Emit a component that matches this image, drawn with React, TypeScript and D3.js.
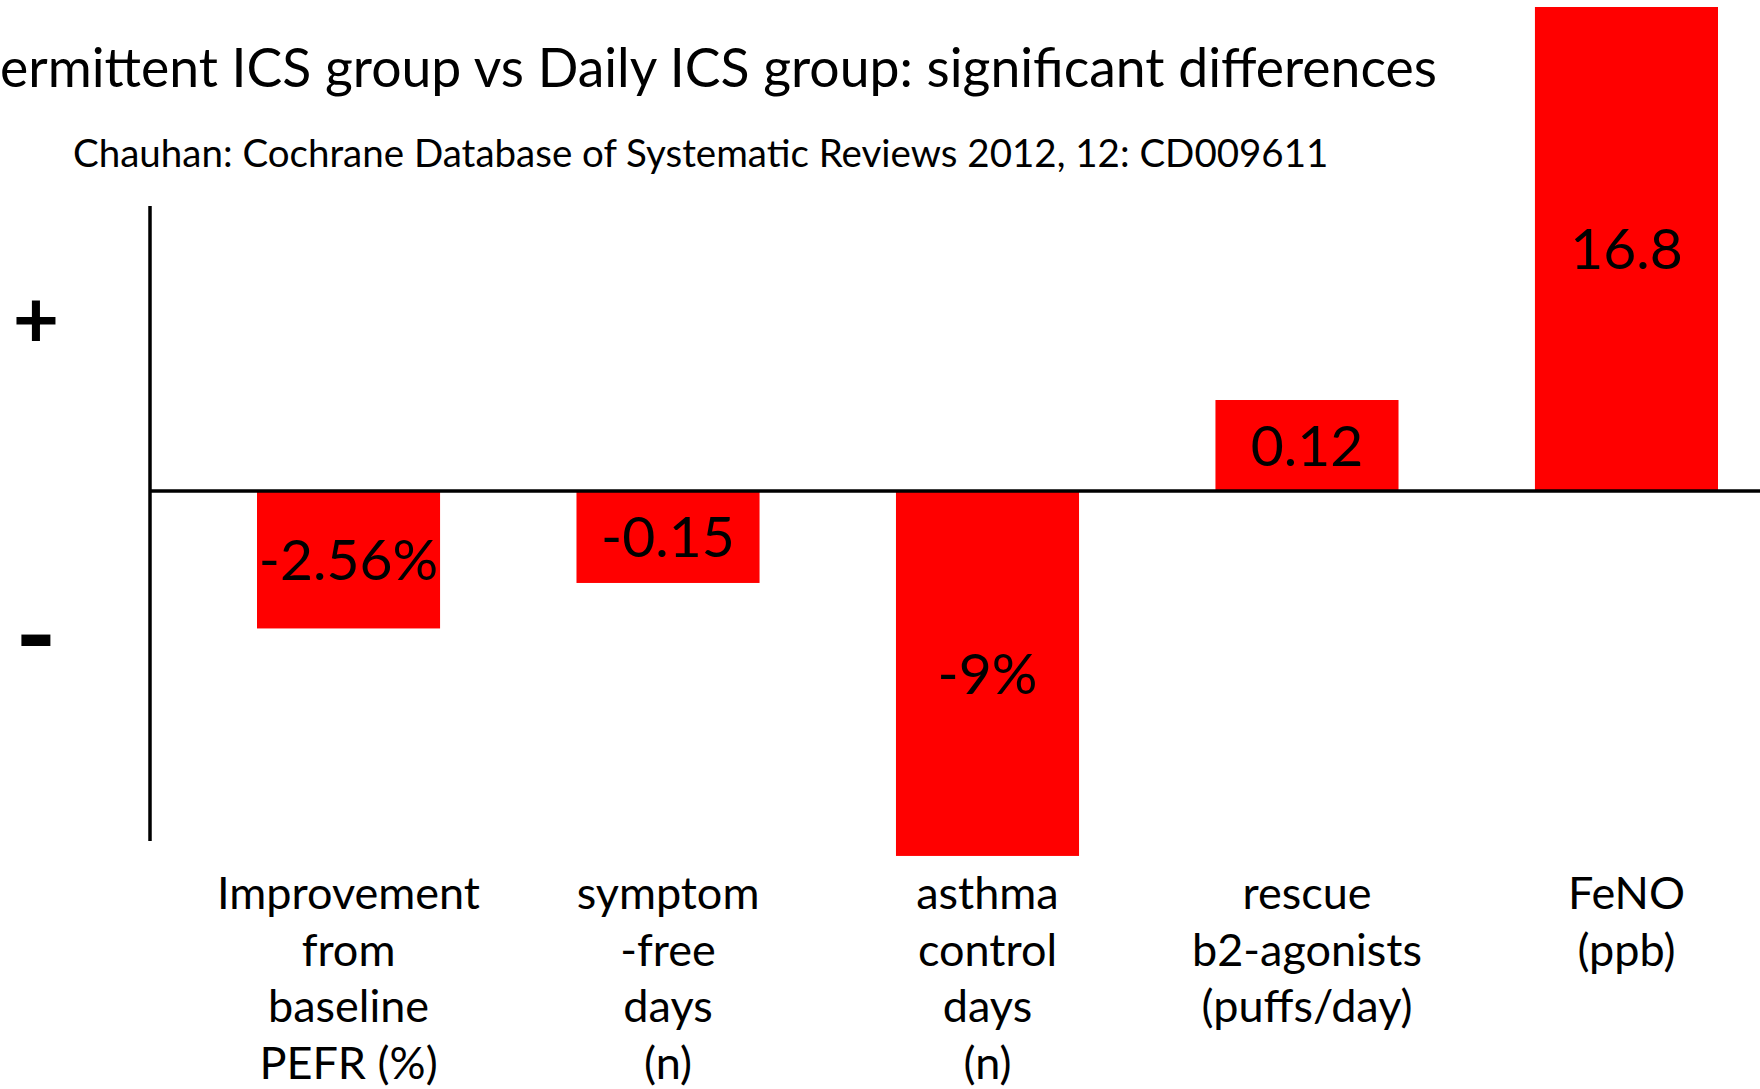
import React from 'react';
import * as d3 from 'd3';

// ---------- data ----------
const categories = ['PEFR', 'symptom-free days', 'asthma control days', 'rescue b2-agonists', 'FeNO'];
const categoryLabelLines: string[][] = [
  ['Improvement', 'from', 'baseline', 'PEFR (%)'],
  ['symptom', '-free', 'days', '(n)'],
  ['asthma', 'control', 'days', '(n)'],
  ['rescue', 'b2-agonists', '(puffs/day)'],
  ['FeNO', '(ppb)'],
];
const valueLabels = ['-2.56%', '-0.15', '-9%', '0.12', '16.8'];
// bar heights as drawn, relative to the tallest bar (= 100)
const relativeHeights = [-28.4, -19.0, -75.4, 18.8, 100];
const signLabels = ['+', '-'];
const titleText = 'ermittent ICS group vs Daily ICS group: significant differences';
const subtitleText = 'Chauhan: Cochrane Database of Systematic Reviews 2012, 12: CD009611';

// ---------- layout ----------
const W = 1760;
const H = 1089;
const FONT = "Lato, 'Open Sans', sans-serif";
const ZERO_Y = 491;
const TOP_Y = 7;
const AXIS_X = 150;
const AXIS_TOP = 206;
const AXIS_BOTTOM = 841;
const BAR_COLOR = '#FF0000';

export default function App() {
  const x = d3
    .scaleBand<string>()
    .domain(categories)
    .range([257, 1718])
    .paddingInner(0.427)
    .paddingOuter(0);
  const y = d3.scaleLinear().domain([0, 100]).range([ZERO_Y, TOP_Y]);

  const valueFont = 57;
  const catFont = 45;
  const catLineH = 56.5;
  const catY0 = 909;

  return (
    <svg
      width={W}
      height={H}
      viewBox={`0 0 ${W} ${H}`}
      style={{ position: 'absolute', left: 0, top: 0, background: '#fff' }}
    >
      <rect x={0} y={0} width={W} height={H} fill="#fff" />
      <text x={0} y={87} fontFamily={FONT} fontSize={53.5} fill="#000">
        {titleText}
      </text>
      <text x={73} y={167} fontFamily={FONT} fontSize={38.5} fill="#000">
        {subtitleText}
      </text>

      {/* bars */}
      {categories.map((c, i) => {
        const v = relativeHeights[i];
        const y0 = y(Math.max(0, v));
        const y1 = y(Math.min(0, v));
        return (
          <rect
            key={c}
            x={x(c)}
            y={y0}
            width={x.bandwidth()}
            height={y1 - y0}
            fill={BAR_COLOR}
          />
        );
      })}

      {/* value labels */}
      {categories.map((c, i) => {
        const v = relativeHeights[i];
        const mid = (y(0) + y(v)) / 2;
        return (
          <text
            key={c + '-v'}
            x={(x(c) as number) + x.bandwidth() / 2}
            y={mid + valueFont * 0.358}
            textAnchor="middle"
            fontFamily={FONT}
            fontSize={valueFont}
            fill="#000"
          >
            {valueLabels[i]}
          </text>
        );
      })}

      {/* axes */}
      <line x1={AXIS_X} x2={AXIS_X} y1={AXIS_TOP} y2={AXIS_BOTTOM} stroke="#000" strokeWidth={3.5} />
      <line x1={AXIS_X} x2={W} y1={y(0)} y2={y(0)} stroke="#000" strokeWidth={3.5} />

      {/* sign labels */}
      <text x={36} y={324 + 0.3 * 80} textAnchor="middle" fontFamily={FONT} fontWeight="bold" fontSize={80} fill="#000">
        {signLabels[0]}
      </text>
      <text x={36} y={674} textAnchor="middle" fontFamily={FONT} fontWeight="bold" fontSize={112} fill="#000">
        {signLabels[1]}
      </text>

      {/* category labels */}
      {categories.map((c, i) => (
        <text
          key={c + '-c'}
          x={(x(c) as number) + x.bandwidth() / 2}
          y={catY0}
          textAnchor="middle"
          fontFamily={FONT}
          fontSize={catFont}
          fill="#000"
        >
          {categoryLabelLines[i].map((line, j) => (
            <tspan key={j} x={(x(c) as number) + x.bandwidth() / 2} y={catY0 + j * catLineH}>
              {line}
            </tspan>
          ))}
        </text>
      ))}
    </svg>
  );
}
